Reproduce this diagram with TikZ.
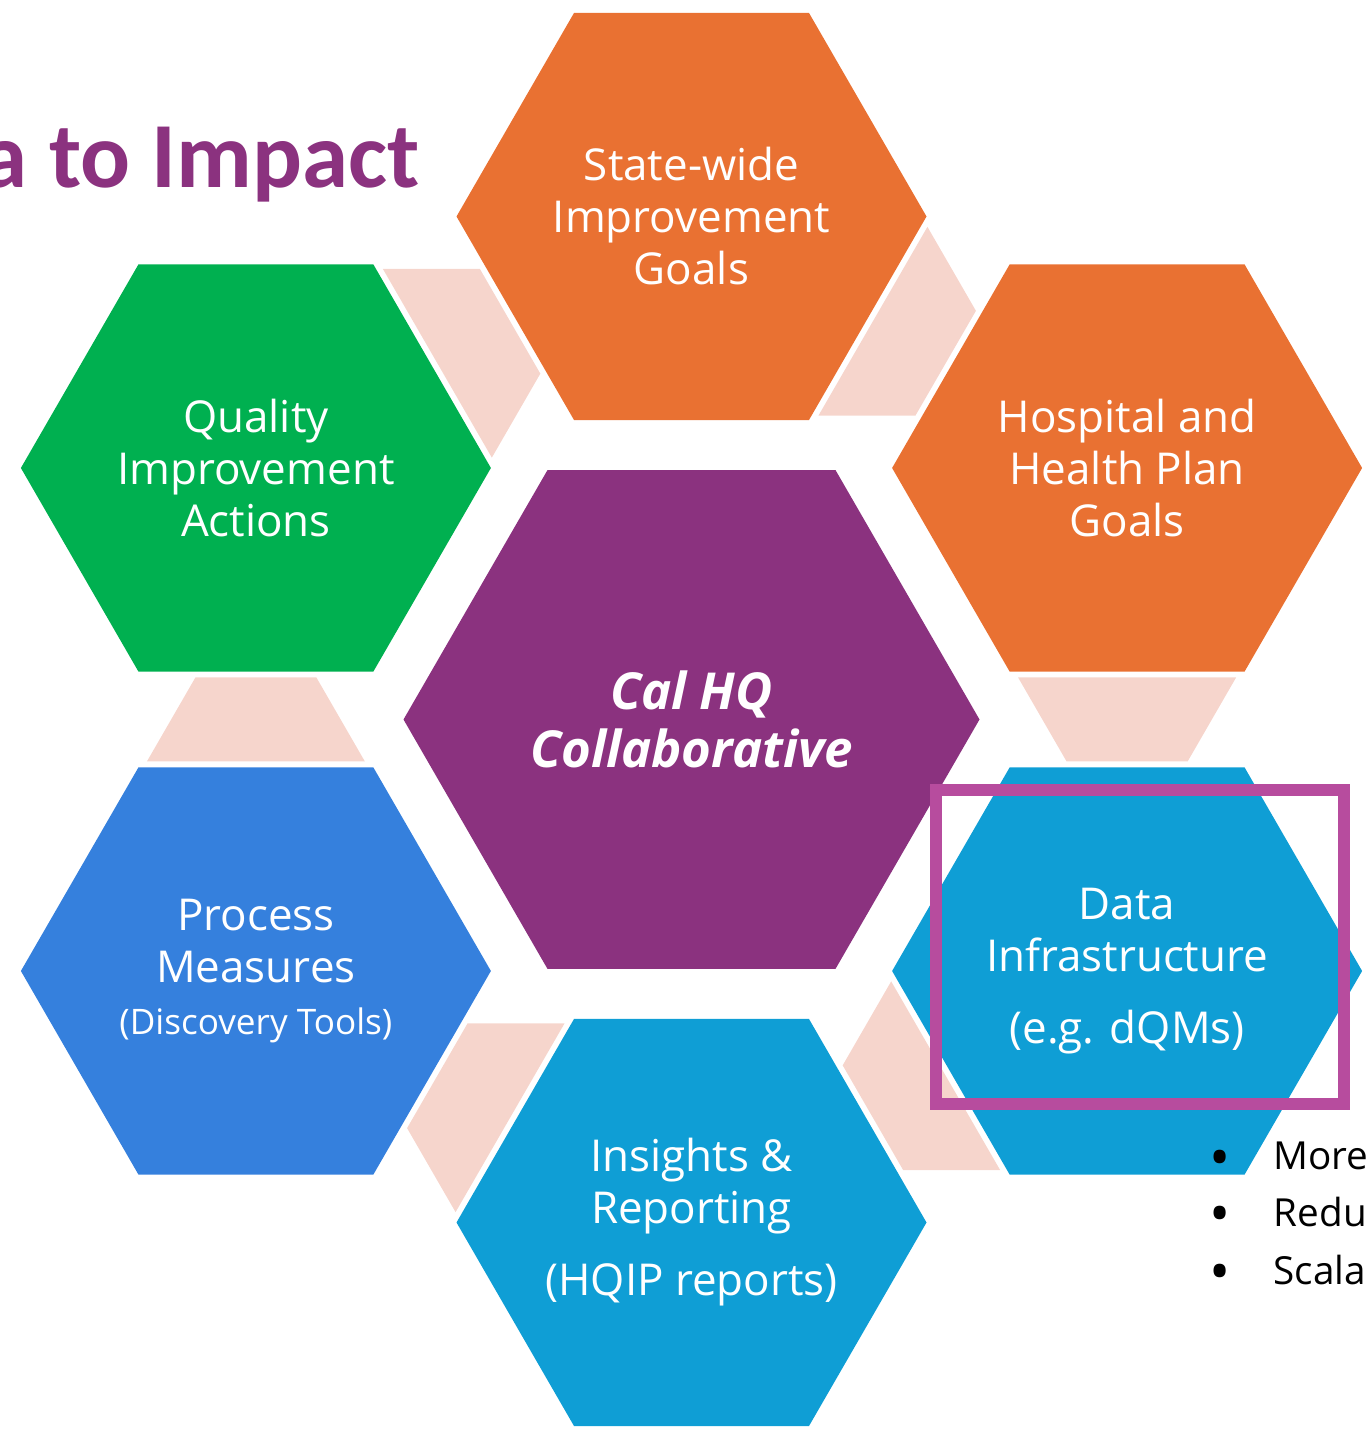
\documentclass[tikz,border=0pt]{standalone}
\usepackage{fontspec}
\setmainfont{Open Sans}
\newfontfamily\titlefont{Carlito}
\usepackage{tikz}
\usetikzlibrary{shapes.geometric,calc}

\definecolor{hexorange}{HTML}{E97132}
\definecolor{hexgreen}{HTML}{00B050}
\definecolor{hexpurple}{HTML}{8B327F}
\definecolor{hexblue}{HTML}{3580DD}
\definecolor{hexcyan}{HTML}{0F9ED5}
\definecolor{linkpink}{HTML}{F6D5CC}
\definecolor{markpink}{HTML}{B74C9E}

\begin{document}
\begin{tikzpicture}[
    hexa/.style={regular polygon, regular polygon sides=6, minimum size=4.7cm, inner sep=-6pt, draw=none, text=white, align=center, font={\fontsize{12.5}{14.8}\selectfont}},
    link/.style={fill=linkpink},
    markbox/.style={rectangle, draw=markpink, line width=0.12cm, minimum width=4.08cm, minimum height=3.14cm},
    item/.style={anchor=base west, inner sep=0pt, font={\fontsize{11}{13}\selectfont}},
]
\useasboundingbox (0,0) rectangle (13.71,14.32);

\node[anchor=base east, inner sep=0pt, text=hexpurple, font={\titlefont\fontsize{26.5}{30}\selectfont\bfseries}] (title) at (4.20,12.44) {a to Impact};

\node[hexa, minimum size=5.76cm, fill=hexpurple, font={\fontsize{14.5}{16.4}\selectfont\bfseries\itshape}] (cal) at (6.915,7.125) {Cal HQ\\Collaborative};

\node[hexa, fill=hexorange] (goals) at (6.915,12.155) {State-wide\\Improvement\\Goals};
\node[hexa, fill=hexorange] (hosp) at (11.271,9.64) {Hospital and\\Health Plan\\Goals};
\node[hexa, fill=hexcyan] (data) at (11.271,4.61) {Data\\Infrastructure\\[0.2cm](e.g. dQMs)};
\node[hexa, fill=hexcyan] (ins) at (6.915,2.095) {Insights \&\\Reporting\\[0.2cm](HQIP reports)};
\node[hexa, fill=hexblue] (proc) at (2.559,4.61) {Process\\Measures\\{\fontsize{10}{12}\selectfont(Discovery Tools)}};
\node[hexa, fill=hexgreen] (qual) at (2.559,9.64) {Quality\\Improvement\\Actions};

\foreach \src/\dst in {goals/hosp, hosp/data, data/ins, ins/proc, proc/qual, qual/goals}
  \fill[link] ($(\src.center)!2.095cm!(\dst.center)!1.09cm!90:(\dst.center)$)
    -- ($(\src.center)!2.935cm!(\dst.center)!0.605cm!90:(\dst.center)$)
    -- ($(\src.center)!2.935cm!(\dst.center)!0.605cm!-90:(\dst.center)$)
    -- ($(\src.center)!2.095cm!(\dst.center)!1.09cm!-90:(\dst.center)$) -- cycle;

\node[markbox] (mark) at (11.40,4.85) {};

\node[item] (more) at (12.73,2.62) {\llap{\raisebox{-0.07cm}{\fontsize{16}{16}\selectfont\textbullet}\hspace{4.3mm}}More};
\node[item] (redu) at (12.73,2.05) {\llap{\raisebox{-0.07cm}{\fontsize{16}{16}\selectfont\textbullet}\hspace{4.3mm}}Redu};
\node[item] (scala) at (12.73,1.47) {\llap{\raisebox{-0.07cm}{\fontsize{16}{16}\selectfont\textbullet}\hspace{4.3mm}}Scala};

\end{tikzpicture}
\end{document}
